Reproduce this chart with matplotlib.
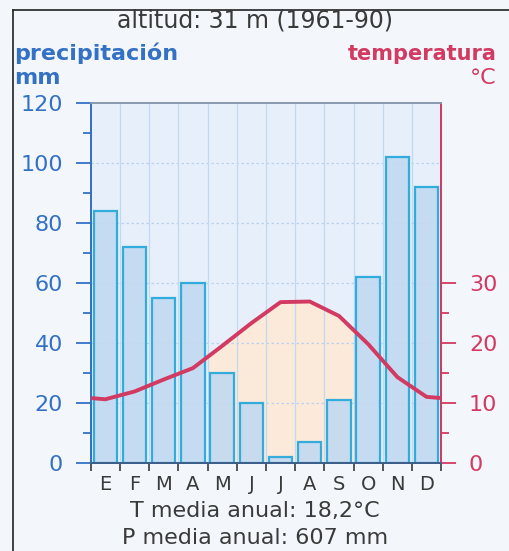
import numpy as np
import matplotlib.pyplot as plt
from matplotlib.lines import Line2D
from matplotlib.ticker import FixedLocator

# DATA
months = ["E", "F", "M", "A", "M", "J", "J", "A", "S", "O", "N", "D"]
precip_mm = [84, 72, 55, 60, 30, 20, 2, 7, 21, 62, 102, 92]
temp_c = [10.6, 11.9, 13.9, 15.8, 19.5, 23.3, 26.8, 26.9, 24.5, 19.8, 14.3, 11.0]
p_ticks = [0, 20, 40, 60, 80, 100, 120]
t_ticks = [0, 10, 20, 30]
title = "altitud: 31 m (1961-90)"
t_note = "T media anual: 18,2°C"
p_note = "P media anual: 607 mm"

BLUE = "#3471c4"
RED = "#d23a62"
BAR_FACE = "#c2d9f1"
BAR_EDGE = "#1fa6da"
GRAY = "#3a3a3a"

plt.rcParams["font.family"] = ["DejaVu Sans"]

fig = plt.figure(figsize=(5.10, 5.51), dpi=100, facecolor="#f3f7fc")
ax = fig.add_axes([0.178, 0.160, 0.687, 0.653])
ax.set_facecolor("#e6effa")

x = np.arange(len(months))

# arid period shading: where 2*T is above precipitation
dry = [i for i in range(len(months)) if 2 * temp_c[i] > precip_mm[i]]
xs = np.concatenate([[-0.5], x, [len(months) - 0.5]])
edge_t = (temp_c[0] + temp_c[-1]) / 2
ts = np.concatenate([[edge_t], temp_c, [edge_t]])
if dry:
    xf = np.linspace(dry[0] - 0.5, dry[-1] + 0.5, 200)
    ax.fill_between(xf, 0, 2 * np.interp(xf, xs, ts), color="#fbe9da", zorder=1, lw=0)

# grid
for gy in p_ticks[1:-1]:
    ax.axhline(gy, color="#b9d2ef", lw=0.9, ls=(0, (2, 2)), zorder=1.5)
for gx in np.arange(0.5, len(months) - 0.5, 1):
    ax.axvline(gx, color="#c3d8f1", lw=0.9, zorder=1.5)

ax.bar(x, precip_mm, width=0.8, color=BAR_FACE, edgecolor=BAR_EDGE, lw=1.6, zorder=2, alpha=0.9)

ax.set_xlim(-0.5, len(months) - 0.5)
ax.set_ylim(0, 120)

# temperature axis: 10 C == 20 mm
ax2 = ax.twinx()
ax2.set_ylim(0, 60)
ax2.plot(xs, ts, color=RED, lw=2.8, zorder=3, solid_capstyle="round")
ax2.set_yticks(t_ticks)
ax2.yaxis.set_minor_locator(FixedLocator([5, 15, 25]))
ax2.tick_params(axis="y", which="major", length=11, width=1.3, color=RED,
                labelcolor=RED, labelsize=16, pad=9)
ax2.tick_params(axis="y", which="minor", length=6, width=1.3, color=RED)
ax2.set_yticklabels([str(t) for t in t_ticks])

# left axis
ax.set_yticks(p_ticks)
ax.yaxis.set_minor_locator(FixedLocator(list(range(10, 120, 20))))
ax.tick_params(axis="y", which="major", length=11, width=1.3, color=BLUE,
               labelcolor=BLUE, labelsize=16, pad=9)
ax.tick_params(axis="y", which="minor", length=6, width=1.3, color=BLUE)

# month axis
ax.set_xticks(np.arange(-0.5, len(months), 1))
ax.set_xticklabels([])
ax.set_xticks(x, minor=True)
ax.set_xticklabels(months, minor=True)
ax.tick_params(axis="x", which="major", length=6, width=1.2, color=GRAY)
ax.tick_params(axis="x", which="minor", length=0, pad=9, labelsize=14, labelcolor=GRAY)

for a in (ax, ax2):
    a.spines["left"].set_color(BLUE)
    a.spines["right"].set_color(RED)
    a.spines["top"].set_color("#8a9bb0")
    a.spines["bottom"].set_color("#3b5f8a")
    for s in a.spines.values():
        s.set_linewidth(1.3)
ax2.set_zorder(ax.get_zorder() + 1)
ax2.patch.set_visible(False)

# texts
fig.text(0.5, 0.950, title, ha="center", va="baseline", fontsize=17, color=GRAY)
fig.text(0.027, 0.891, "precipitación", ha="left", va="baseline", fontsize=16,
         color=BLUE, fontweight="bold")
fig.text(0.027, 0.848, "mm", ha="left", va="baseline", fontsize=16,
         color=BLUE, fontweight="bold")
fig.text(0.974, 0.891, "temperatura", ha="right", va="baseline", fontsize=15,
         color=RED, fontweight="bold")
fig.text(0.974, 0.848, "°C", ha="right", va="baseline", fontsize=16, color=RED)
fig.text(0.5, 0.062, t_note, ha="center", va="baseline", fontsize=16, color=GRAY)
fig.text(0.5, 0.013, p_note, ha="center", va="baseline", fontsize=16, color=GRAY)

# scan frame (left and top edges)
fig.add_artist(Line2D([0.026, 0.026], [0, 0.982], transform=fig.transFigure, color="#222", lw=1.2))
fig.add_artist(Line2D([0.026, 1.0], [0.982, 0.982], transform=fig.transFigure, color="#222", lw=1.2))

fig.savefig("out.png", dpi=100, facecolor=fig.get_facecolor())
